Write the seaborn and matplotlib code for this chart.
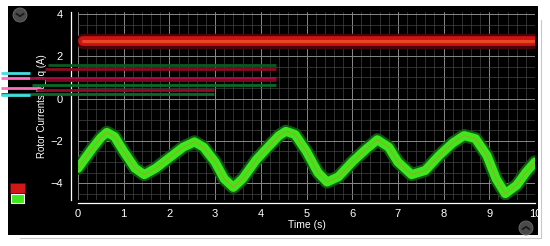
import numpy as np
import pandas as pd
import matplotlib
matplotlib.use("Agg")
import matplotlib.pyplot as plt
from matplotlib.patches import Rectangle, Ellipse
from matplotlib.ticker import MultipleLocator
import seaborn as sns

# ---- data ----
iq_time = [0.0, 0.15, 0.3, 0.5, 0.63, 0.8, 1.0, 1.25, 1.45, 1.7, 2.0, 2.3, 2.55, 2.75, 3.0, 3.2, 3.4,
           3.6, 3.9, 4.2, 4.4, 4.55, 4.75, 5.0, 5.25, 5.45, 5.7, 6.0, 6.3, 6.55, 6.8, 7.0,
           7.3, 7.6, 7.9, 8.2, 8.45, 8.7, 8.95, 9.15, 9.35, 9.6, 9.8, 10.0]
iq_current = [-3.3, -2.85, -2.4, -1.85, -1.6, -1.8, -2.5, -3.3, -3.6, -3.3, -2.8, -2.3, -2.05, -2.3, -3.0, -3.8, -4.2,
              -3.8, -2.9, -2.2, -1.75, -1.55, -1.7, -2.5, -3.5, -3.95, -3.7, -3.0, -2.4, -1.95, -2.3, -3.0,
              -3.6, -3.4, -2.7, -2.1, -1.75, -1.9, -2.7, -3.8, -4.5, -4.1, -3.5, -3.0]
id_time = [0.1, 2.5, 5.0, 7.5, 10.0]
id_current = [2.75, 2.75, 2.75, 2.75, 2.75]

# artefact lines of the overlapping legend (y value, x start, x end, colour)
glitch_y = [1.58, 1.38, 1.2, 0.97, 0.97, 0.86, 0.64, 0.5, 0.4, 0.21, 0.18]
glitch_x0 = [-0.65, -0.72, -1.69, -1.69, -1.04, -0.72, -1.0, -1.69, -0.9, -1.69, -1.69]
glitch_x1 = [4.34, 4.34, -1.04, -1.04, 4.34, 4.34, 4.34, -0.8, 2.97, 2.97, -1.04]
glitch_c = ["#0b5a22", "#8c0a22", "#40e0e0", "#ff6ec7", "#a01040", "#7a0a1e",
            "#0b6a28", "#ff70c0", "#900c26", "#0b6a28", "#40e0e0"]

xticks = [0, 1, 2, 3, 4, 5, 6, 7, 8, 9, 10]
yticks = [-4, -2, 0, 2, 4]

df_q = pd.DataFrame({"t": iq_time, "i": iq_current})
df_d = pd.DataFrame({"t": id_time, "i": id_current})

sns.set_theme(style="dark")
plt.rcParams["font.family"] = ["Liberation Sans", "DejaVu Sans"]

fig = plt.figure(figsize=(5.5, 2.46), dpi=100)
fig.patch.set_facecolor("white")

W, H = 550, 246
def fx(px): return px / W
def fy(py): return 1 - py / H

# black panel
fig.patches.append(Rectangle((fx(8), fy(235)), fx(530), (235 - 6) / H,
                             transform=fig.transFigure, facecolor="black",
                             edgecolor="none", zorder=-5))
# light ruler lines
fig.add_artist(plt.Line2D([fx(20), fx(540)], [fy(238), fy(238)], transform=fig.transFigure,
                          color="#c8c8c8", lw=0.8, zorder=-4))
fig.add_artist(plt.Line2D([fx(541), fx(541)], [fy(20), fy(238)], transform=fig.transFigure,
                          color="#c8c8c8", lw=0.8, zorder=-4))

ax = fig.add_axes([fx(78), fy(200), (535 - 78) / W, (200 - 12) / H])
ax.set_zorder(2)
ax.set_facecolor("black")

ax.set_xlim(0, 10)
ax.set_ylim(-4.8, 4.1)
ax.xaxis.set_major_locator(MultipleLocator(1))
ax.xaxis.set_minor_locator(MultipleLocator(0.2))
ax.yaxis.set_major_locator(MultipleLocator(2))
ax.yaxis.set_minor_locator(MultipleLocator(0.5))
ax.grid(which="major", color="#8a8a8a", lw=0.7)
ax.grid(which="minor", color="#444444", lw=0.5)
ax.set_axisbelow(True)

# Id band (red)
sns.lineplot(data=df_d, x="t", y="i", ax=ax, color="#4a0508", lw=11, legend=False)
sns.lineplot(data=df_d, x="t", y="i", ax=ax, color="#cc1414", lw=7, legend=False)
sns.lineplot(data=df_d, x="t", y="i", ax=ax, color="#f05a2a", lw=2.2, alpha=0.75, legend=False)

# Iq band (green)
sns.lineplot(data=df_q, x="t", y="i", ax=ax, color="#0d5a10", lw=9.5, legend=False, sort=False)
sns.lineplot(data=df_q, x="t", y="i", ax=ax, color="#3ee81c", lw=6.5, legend=False, sort=False)
sns.lineplot(data=df_q, x="t", y="i", ax=ax, color="#c88a2a", lw=0.7, alpha=0.7, legend=False, sort=False)

# overlapping legend artefacts
for y, x0, x1, c in zip(glitch_y, glitch_x0, glitch_x1, glitch_c):
    ax.hlines(y, x0, x1, colors=c, lw=2.0, clip_on=False, zorder=5)

ax.set_xticks(xticks)
ax.set_yticks(yticks)
ax.set_xticklabels([str(v) for v in xticks])
ax.set_yticklabels(["\u22124", "\u22122", "0", "2", "4"])
ax.tick_params(axis="both", which="both", colors="white", labelsize=8, labelcolor="white")
ax.tick_params(axis="x", which="major", direction="in", length=3, width=0.8, pad=4)
ax.tick_params(axis="x", which="minor", direction="in", length=2, width=0.6)
ax.tick_params(axis="y", which="major", direction="out", length=3, width=0.8, pad=3)
ax.tick_params(axis="y", which="minor", direction="out", length=0)
for lab in ax.get_xticklabels() + ax.get_yticklabels():
    lab.set_fontweight("bold")

for s in ["top", "right"]:
    ax.spines[s].set_visible(False)
ax.spines["left"].set_position(("outward", 5))
ax.spines["bottom"].set_position(("outward", 2.2))
ax.spines["left"].set_color("white")
ax.spines["bottom"].set_color("white")
ax.spines["left"].set_linewidth(0.9)
ax.spines["bottom"].set_linewidth(0.9)

ax.set_xlabel("Time (s)", color="white", fontsize=7.5, labelpad=1)
ax.set_ylabel("Rotor Currents Id_Iq (A)", color="white", fontsize=7, labelpad=2)

# legend swatches
fig.patches.append(Rectangle((fx(10), fy(193)), 15 / W, 10 / H, transform=fig.transFigure,
                             facecolor="#d01818", edgecolor="#5a0610", lw=0.5, zorder=3))
fig.patches.append(Rectangle((fx(11), fy(203)), 13 / W, 9 / H, transform=fig.transFigure,
                             facecolor="#3ee81c", edgecolor="white", lw=0.8, zorder=3))

# round gray buttons
for (cx, cy, up) in [(20, 15, False), (526, 228, True)]:
    fig.patches.append(Ellipse((fx(cx), fy(cy)), 14 / W, 14 / H, transform=fig.transFigure,
                               facecolor="#4a4a4a", edgecolor="#6a6a6a", lw=0.6, zorder=3))
    d = 2.5
    ys = [cy + d / 2, cy - d / 2, cy + d / 2] if up else [cy - d / 2, cy + d / 2, cy - d / 2]
    fig.add_artist(plt.Line2D([fx(cx - 3.5), fx(cx), fx(cx + 3.5)], [fy(v) for v in ys],
                              transform=fig.transFigure, color="#1a1a1a", lw=1.3, zorder=4))

fig.savefig("out.png", dpi=100, facecolor=fig.get_facecolor())
